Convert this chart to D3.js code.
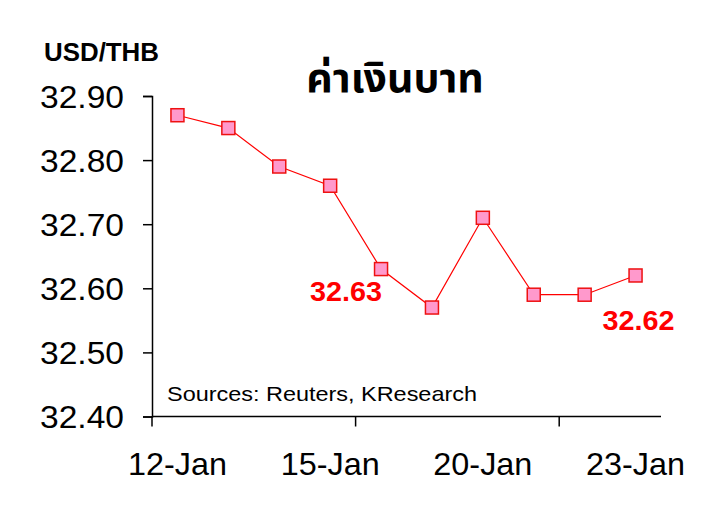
<!DOCTYPE html>
<html><head><meta charset="utf-8">
<script src="https://cdn.jsdelivr.net/npm/d3@7"></script>
<style>body{margin:0;background:#fff}svg{display:block}</style>
</head><body>
<script>
const categories = ["12-Jan","13-Jan","14-Jan","15-Jan","16-Jan","19-Jan","20-Jan","21-Jan","22-Jan","23-Jan"];
const values = [32.87,32.85,32.79,32.76,32.63,32.57,32.71,32.59,32.59,32.62];
const yTicks = [32.40,32.50,32.60,32.70,32.80,32.90];
const xLabels = ["12-Jan","15-Jan","20-Jan","23-Jan"];
const callouts = [{i:4,text:"32.63"},{i:9,text:"32.62"}];

const W=728,H=524;
const FONT="Arial, 'Liberation Sans', sans-serif";
const svg=d3.select("body").append("svg").attr("width",W).attr("height",H);
const x=d3.scaleBand().domain(categories).range([152,661]);
const y=d3.scaleLinear().domain([32.40,32.90]).range([416.5,96]);

// y axis
const ya=svg.append("g").attr("transform","translate(152,0)")
  .call(d3.axisLeft(y).tickValues(yTicks).tickFormat(d3.format(".2f")).tickSizeOuter(0).tickSize(9).tickPadding(18));
ya.select(".domain").attr("stroke","#000").attr("stroke-width",1.5);
ya.selectAll("line").attr("stroke","#000").attr("stroke-width",1.5);
ya.selectAll("text").attr("font-family",FONT).attr("font-size",31.5).attr("fill","#000").attr("dy","0.36em")
  .attr("x",-28).attr("textLength",84).attr("lengthAdjust","spacingAndGlyphs");

// x axis
const xa=svg.append("g").attr("transform","translate(0,416.5)");
xa.append("line").attr("x1",x.range()[0]).attr("x2",x.range()[1]).attr("stroke","#000").attr("stroke-width",1.5);
[0,4,8].forEach(i=>{
  const xx=x(categories[i]);
  xa.append("line").attr("x1",xx).attr("x2",xx).attr("y1",0).attr("y2",10).attr("stroke","#000").attr("stroke-width",1.5);
});
xLabels.forEach(l=>{
  xa.append("text").attr("x",x(l)+x.bandwidth()/2).attr("y",58.5).attr("text-anchor","middle")
    .attr("font-family",FONT).attr("font-size",32).attr("fill","#000")
    .attr("textLength",99).attr("lengthAdjust","spacingAndGlyphs").text(l);
});

// line
const line=d3.line().x((d,i)=>x(categories[i])+x.bandwidth()/2).y(d=>y(d));
svg.append("path").datum(values).attr("d",line).attr("fill","none").attr("stroke","#ff0000").attr("stroke-width",1.2);
svg.selectAll("rect.m").data(values).enter().append("rect").attr("class","m")
  .attr("x",(d,i)=>x(categories[i])+x.bandwidth()/2-6.5).attr("y",d=>y(d)-6.5)
  .attr("width",13).attr("height",13).attr("fill","#ff99cc").attr("stroke","#ee1111").attr("stroke-width",1.5);

// callouts
const cpos=[{dx:-35,dy:32},{dx:3,dy:55}];
callouts.forEach((c,k)=>{
  svg.append("text").attr("x",x(categories[c.i])+x.bandwidth()/2+cpos[k].dx).attr("y",y(values[c.i])+cpos[k].dy)
    .attr("text-anchor","middle").attr("font-family",FONT).attr("font-weight","bold")
    .attr("font-size",28).attr("fill","#ff0000")
    .attr("textLength",72).attr("lengthAdjust","spacingAndGlyphs").text(c.text);
});

// texts
svg.append("text").attr("x",44).attr("y",61).attr("font-family",FONT).attr("font-weight","bold").attr("font-size",26).attr("fill","#000")
  .attr("textLength",115).attr("lengthAdjust","spacingAndGlyphs").text("USD/THB");
svg.append("text").attr("x",395).attr("y",92).attr("text-anchor","middle").attr("font-family","'Noto Sans', 'Noto Sans Thai', Tahoma, sans-serif").attr("font-weight","bold").attr("font-size",41).attr("fill","#000").text("ค่าเงินบาท");
svg.append("text").attr("x",167).attr("y",401).attr("font-family",FONT).attr("font-size",21).attr("fill","#000")
  .attr("textLength",310).attr("lengthAdjust","spacingAndGlyphs").text("Sources: Reuters, KResearch");
</script>
</body></html>
